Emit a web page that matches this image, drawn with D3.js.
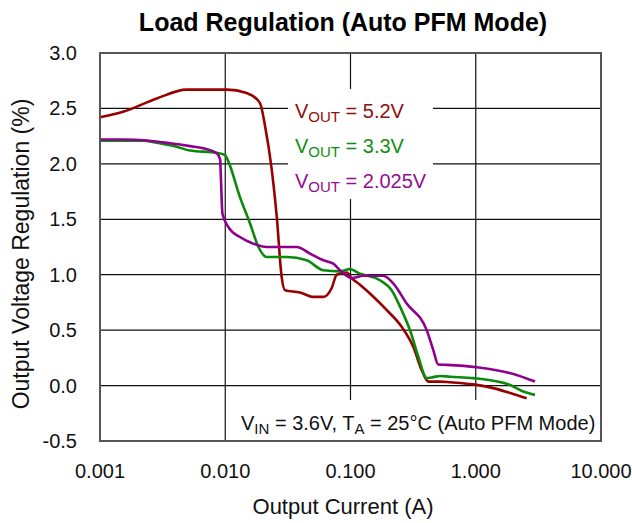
<!DOCTYPE html>
<html>
<head>
<meta charset="utf-8">
<script src="https://cdn.jsdelivr.net/npm/d3@7"></script>
<style>
  body { margin: 0; background: #fff; }
  svg { display: block; }
</style>
</head>
<body>
<div id="chart"></div>
<script>
// data
var xTicks = [0.001, 0.01, 0.1, 1, 10];
var yTicks = [-0.5, 0, 0.5, 1, 1.5, 2, 2.5, 3];

// Vout = 5.2V
var iOut52 = [0.001, 0.00153, 0.00284, 0.0049, 0.0103, 0.0148, 0.0189, 0.0208, 0.0235, 0.0258, 0.0282, 0.030, 0.0395, 0.0505, 0.0607, 0.0708, 0.0776, 0.0933, 0.102, 0.119, 0.143, 0.195, 0.256, 0.317, 0.370, 0.418, 0.518, 0.623, 1.02, 1.38, 1.99, 2.55];
var reg52 = [2.42, 2.47, 2.59, 2.67, 2.67, 2.64, 2.55, 2.34, 1.95, 1.52, 0.98, 0.86, 0.84, 0.80, 0.80, 0.88, 1.00, 1.02, 0.97, 0.91, 0.83, 0.68, 0.53, 0.35, 0.14, 0.036, 0.036, 0.03, 0.006, -0.023, -0.075, -0.114];

// Vout = 3.3V
var iOut33 = [0.001, 0.00222, 0.00284, 0.0041, 0.00523, 0.00855, 0.00995, 0.0106, 0.0131, 0.0158, 0.0184, 0.0214, 0.031, 0.0447, 0.0607, 0.0825, 0.099, 0.119, 0.127, 0.172, 0.213, 0.256, 0.2985, 0.348, 0.406, 0.458, 0.518, 0.623, 0.956, 1.88, 2.40, 2.97];
var reg33 = [2.21, 2.21, 2.19, 2.155, 2.12, 2.10, 2.08, 2.02, 1.70, 1.46, 1.25, 1.16, 1.16, 1.13, 1.04, 1.03, 1.05, 1.01, 1.00, 0.95, 0.86, 0.68, 0.50, 0.26, 0.067, 0.076, 0.087, 0.08, 0.067, 0.006, -0.054, -0.084];

// Vout = 2.025V
var iOut2 = [0.001, 0.00153, 0.00236, 0.00362, 0.00523, 0.00668, 0.00855, 0.0091, 0.0092, 0.0095, 0.0106, 0.0131, 0.0168, 0.0214, 0.0372, 0.0475, 0.0607, 0.0729, 0.0825, 0.1022, 0.1266, 0.183, 0.22, 0.281, 0.406, 0.458, 0.502, 0.586, 1.02, 2.12, 2.97];
var reg2 = [2.22, 2.22, 2.21, 2.186, 2.16, 2.14, 2.095, 2.04, 1.92, 1.55, 1.43, 1.34, 1.28, 1.25, 1.25, 1.19, 1.13, 1.10, 1.04, 0.97, 0.99, 0.99, 0.92, 0.74, 0.50, 0.32, 0.19, 0.187, 0.166, 0.096, 0.036];

var series = [
    { name: "5.2V", x: iOut52, y: reg52, color: "#990000", text: "#8b1010" },
    { name: "3.3V", x: iOut33, y: reg33, color: "#0a8a0a", text: "#109010" },
    { name: "2.025V", x: iOut2, y: reg2, color: "#8e008e", text: "#901090" }
];

drawChart();

function drawChart() {
    var width = 632, height = 523;
    var pLeft = 100, pRight = 601, pTop = 53, pBottom = 441;

    var svg = d3.select("#chart")
        .append("svg")
        .attr("width", width)
        .attr("height", height)
        .attr("font-family", "'Liberation Sans', Arial, sans-serif");

    var x = d3.scaleLog().domain([0.001, 10]).range([pLeft, pRight]);
    var y = d3.scaleLinear().domain([-0.5, 3]).range([pBottom, pTop]);

    // grid
    svg.append("g")
        .selectAll("line")
        .data(yTicks)
        .enter().append("line")
        .attr("x1", pLeft).attr("x2", pRight)
        .attr("y1", d => y(d)).attr("y2", d => y(d))
        .attr("stroke", "#111").attr("stroke-width", 1.2);

    svg.append("g")
        .selectAll("line")
        .data(xTicks)
        .enter().append("line")
        .attr("x1", d => x(d)).attr("x2", d => x(d))
        .attr("y1", pTop).attr("y2", pBottom)
        .attr("stroke", "#111").attr("stroke-width", 1.2);

    // curves
    var line = d3.line()
        .x(d => x(d[0]))
        .y(d => y(d[1]))
        .curve(d3.curveMonotoneX);

    series.forEach(function(s) {
        var pts = s.x.map((v, i) => [v, s.y[i]]);
        svg.append("path")
            .datum(pts)
            .attr("d", line)
            .attr("fill", "none")
            .attr("stroke", s.color)
            .attr("stroke-width", 2.6)
            .attr("stroke-linejoin", "round");
    });

    // legend box
    svg.append("rect")
        .attr("x", 288).attr("y", 89)
        .attr("width", 145).attr("height", 110)
        .attr("fill", "#fff");

    series.forEach(function(s, i) {
        var t = svg.append("text")
            .attr("x", 295)
            .attr("y", 118 + i * 35)
            .attr("font-size", 20)
            .attr("fill", s.text);
        t.append("tspan").text("V");
        t.append("tspan").attr("font-size", 15).attr("dy", 4).text("OUT");
        t.append("tspan").attr("dy", -4).text(" = " + s.name);
    });

    // condition box
    svg.append("rect")
        .attr("x", 237).attr("y", 400)
        .attr("width", 363).attr("height", 40)
        .attr("fill", "#fff");

    var note = svg.append("text")
        .attr("x", 241)
        .attr("y", 430)
        .attr("font-size", 20)
        .attr("fill", "#111");
    note.append("tspan").text("V");
    note.append("tspan").attr("font-size", 15).attr("dy", 4).text("IN");
    note.append("tspan").attr("dy", -4).text(" = 3.6V, T");
    note.append("tspan").attr("font-size", 15).attr("dy", 4).text("A");
    note.append("tspan").attr("dy", -4).text(" = 25\u00B0C (Auto PFM Mode)");

    // frame
    svg.append("rect")
        .attr("x", pLeft).attr("y", pTop)
        .attr("width", pRight - pLeft).attr("height", pBottom - pTop)
        .attr("fill", "none")
        .attr("stroke", "#555")
        .attr("stroke-width", 2);

    // tick labels
    svg.append("g")
        .selectAll("text")
        .data(xTicks)
        .enter().append("text")
        .attr("x", d => x(d))
        .attr("y", 478)
        .attr("text-anchor", "middle")
        .attr("font-size", 20)
        .attr("fill", "#111")
        .text(d => d3.format(".3f")(d));

    svg.append("g")
        .selectAll("text")
        .data(yTicks)
        .enter().append("text")
        .attr("x", 77)
        .attr("y", d => y(d) + 7)
        .attr("text-anchor", "end")
        .attr("font-size", 20)
        .attr("fill", "#111")
        .text(d => d3.format(".1f")(d).replace("\u2212", "-"));

    // titles
    svg.append("text")
        .attr("x", 343).attr("y", 31)
        .attr("text-anchor", "middle")
        .attr("font-size", 25)
        .attr("font-weight", "bold")
        .text("Load Regulation (Auto PFM Mode)");

    svg.append("text")
        .attr("x", 343).attr("y", 514)
        .attr("text-anchor", "middle")
        .attr("font-size", 22)
        .attr("fill", "#111")
        .text("Output Current (A)");

    svg.append("text")
        .attr("transform", "translate(29,254) rotate(-90)")
        .attr("text-anchor", "middle")
        .attr("font-size", 23)
        .attr("fill", "#111")
        .text("Output Voltage Regulation (%)");
}
</script>
</body>
</html>
